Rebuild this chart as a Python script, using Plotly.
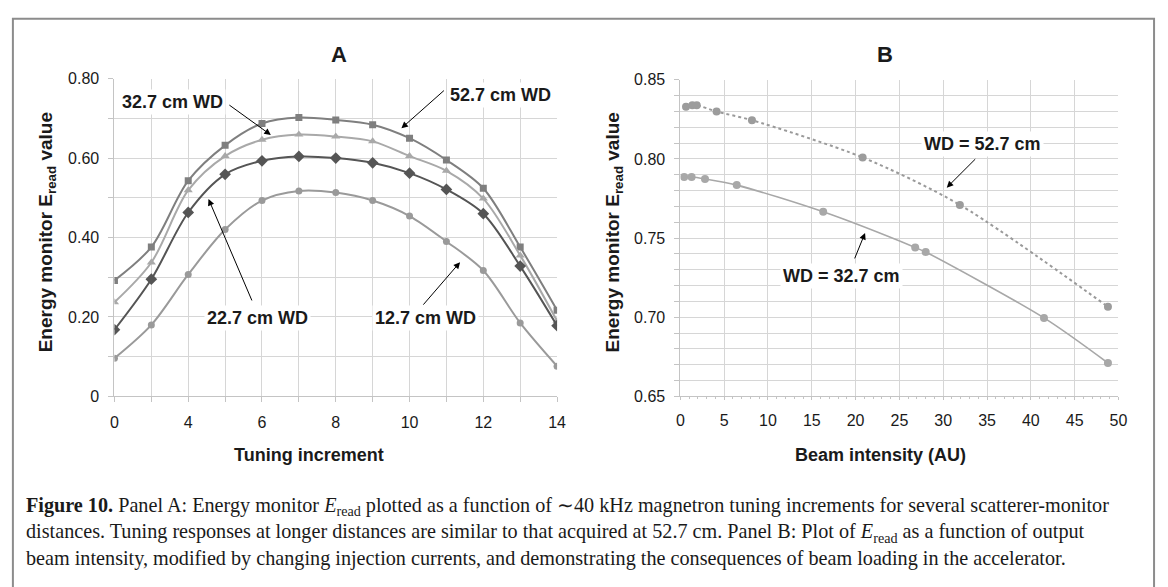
import plotly.graph_objects as go

W, H = 1168, 587

# ---------------- Panel A data ----------------
tuning_categories = ["0", "2", "4", "5", "6", "7", "8", "9", "10", "11", "12", "13", "14"]
wd_52_7 = [0.292, 0.376, 0.543, 0.632, 0.687, 0.702, 0.696, 0.684, 0.650, 0.595, 0.524, 0.376, 0.217]
wd_32_7 = [0.237, 0.337, 0.519, 0.605, 0.646, 0.659, 0.654, 0.642, 0.605, 0.568, 0.498, 0.355, 0.190]
wd_22_7 = [0.168, 0.295, 0.463, 0.559, 0.593, 0.604, 0.600, 0.588, 0.562, 0.521, 0.460, 0.328, 0.178]
wd_12_7 = [0.096, 0.180, 0.307, 0.420, 0.493, 0.517, 0.513, 0.493, 0.454, 0.390, 0.317, 0.185, 0.076]

# ---------------- Panel B data ----------------
beam_52_7 = [0.64, 1.36, 1.87, 4.13, 8.17, 20.8, 31.9, 48.8]
eread_52_7 = [0.833, 0.834, 0.834, 0.830, 0.8245, 0.801, 0.771, 0.7066]
beam_32_7 = [0.43, 1.28, 2.81, 6.43, 16.3, 26.8, 28.0, 41.5, 48.8]
eread_32_7 = [0.7886, 0.7886, 0.7874, 0.7835, 0.7666, 0.7441, 0.7412, 0.6996, 0.6711]

A_yticks = [0, 0.1, 0.2, 0.3, 0.4, 0.5, 0.6, 0.7, 0.8]
A_yticktext = ["0", "", "0.20", "", "0.40", "", "0.60", "", "0.80"]
A_xticktext = ["0", "", "4", "", "6", "", "8", "", "10", "", "12", "", "14"]
B_yticks = [round(0.65 + 0.01 * i, 2) for i in range(21)]
B_yticktext = [f"{v:.2f}" if round(v * 100) % 5 == 0 else "" for v in B_yticks]

FONT = "Arial, 'Liberation Sans', sans-serif"
SERIF = "'Liberation Serif', 'Times New Roman', serif"
GRID = "#d6d6d6"
TXT = "#1a1a1a"

def px_x(p):
    return p / W

def px_y(p):
    return 1 - p / H

fig = go.Figure()

seriesA = [
    ("52.7 cm WD", wd_52_7, "#7f7f7f", "square", 7),
    ("32.7 cm WD", wd_32_7, "#a9a9a9", "triangle-up", 8),
    ("22.7 cm WD", wd_22_7, "#555555", "diamond", 9),
    ("12.7 cm WD", wd_12_7, "#9a9a9a", "circle", 7),
]
for name, ys, col, sym, sz in seriesA:
    fig.add_trace(go.Scatter(
        x=tuning_categories, y=ys, name=name, mode="lines+markers",
        line=dict(color=col, width=2, shape="spline", smoothing=0.9),
        marker=dict(color=col, symbol=sym, size=sz),
        xaxis="x", yaxis="y", showlegend=False))

fig.add_trace(go.Scatter(
    x=beam_52_7, y=eread_52_7, mode="lines+markers", name="WD = 52.7 cm",
    line=dict(color="#9a9a9a", width=2, dash="dot", shape="spline", smoothing=0.8),
    marker=dict(color="#9c9c9c", size=8), xaxis="x2", yaxis="y2", showlegend=False))
fig.add_trace(go.Scatter(
    x=beam_32_7, y=eread_32_7, mode="lines+markers", name="WD = 32.7 cm",
    line=dict(color="#a8a8a8", width=1.6, shape="spline", smoothing=0.8),
    marker=dict(color="#a8a8a8", size=8), xaxis="x2", yaxis="y2", showlegend=False))

axis_common = dict(showgrid=True, gridcolor=GRID, gridwidth=1, zeroline=False,
                   showline=True, linecolor="#c4c4c4", linewidth=1,
                   ticks="outside", tickcolor="#c4c4c4", ticklen=5,
                   tickfont=dict(family=FONT, size=16, color=TXT))

fig.update_layout(
    width=W, height=H, margin=dict(l=0, r=0, t=0, b=0),
    paper_bgcolor="white", plot_bgcolor="white",
    xaxis=dict(axis_common, type="category", categoryorder="array",
               categoryarray=tuning_categories, range=[0, 12],
               tickvals=tuning_categories, ticktext=A_xticktext,
               domain=[px_x(111.7), px_x(559.3)], anchor="y", ticklabelstandoff=6),
    yaxis=dict(axis_common, range=[0, 0.8], tickvals=A_yticks, ticktext=A_yticktext,
               domain=[px_y(400), px_y(72.7)], anchor="x", ticklabelstandoff=6),
    xaxis2=dict(axis_common, range=[0, 50], tick0=0, dtick=5,
                domain=[px_x(684), px_x(1127)], anchor="y2", ticklabelstandoff=6,
                ticklen=3,
                minor=dict(dtick=1, tick0=0, ticks="outside", ticklen=2,
                           tickcolor="#c4c4c4", showgrid=False)),
    yaxis2=dict(axis_common, range=[0.65, 0.85], tickvals=B_yticks, ticktext=B_yticktext,
                domain=[px_y(400), px_y(74)], anchor="x2", ticklabelstandoff=6),
)

def paper_text(text, xp, yp, size, family=FONT, **kw):
    d = dict(text=text, x=px_x(xp), y=px_y(yp), xref="paper", yref="paper",
             xanchor="center", yanchor="middle", showarrow=False,
             font=dict(family=family, size=size, color=TXT))
    d.update(kw)
    return d

ann = []
# titles
ann.append(paper_text("<b>A</b>", 339, 48, 22))
ann.append(paper_text("<b>B</b>", 891, 48, 22))
# axis titles
ann.append(paper_text("<b>Tuning increment</b>", 308, 460, 18))
ann.append(paper_text("<b>Beam intensity (AU)</b>", 886, 460, 18))
for xc in (43.5, 617):
    ann.append(paper_text("<b>Energy monitor E<sub>read</sub> value</b>", xc, 231, 19,
                          textangle=-90))

# panel A labels (text boxes)
labA = [("32.7 cm WD", 1.57, 0.741), ("52.7 cm WD", 10.47, 0.758),
        ("22.7 cm WD", 3.88, 0.198), ("12.7 cm WD", 8.42, 0.198)]
for t, xv, yv in labA:
    ann.append(dict(text=f"<b>{t}</b>", x=xv, y=yv, xref="x", yref="y", showarrow=False,
                    xanchor="center", yanchor="middle", bgcolor="white", borderpad=2,
                    font=dict(family=FONT, size=18, color=TXT)))
arrA = [(4.24, 0.658, -43, -31), (7.78, 0.675, 44, -39),
        (2.55, 0.497, 44, 103), (9.37, 0.338, -38, 44)]
for xv, yv, axp, ayp in arrA:
    ann.append(dict(text="", x=xv, y=yv, xref="x", yref="y", showarrow=True,
                    ax=axp, ay=ayp, arrowhead=2, arrowsize=1.3, arrowwidth=1,
                    arrowcolor="black"))

labB = [("WD = 52.7 cm", 34.43, 0.8095), ("WD = 32.7 cm", 18.42, 0.7261)]
for t, xv, yv in labB:
    ann.append(dict(text=f"<b>{t}</b>", x=xv, y=yv, xref="x2", yref="y2", showarrow=False,
                    xanchor="center", yanchor="middle", bgcolor="white", borderpad=2,
                    font=dict(family=FONT, size=18, color=TXT)))
arrB = [(30.40, 0.7819, 30, -30), (21.08, 0.7533, -11, 27)]
for xv, yv, axp, ayp in arrB:
    ann.append(dict(text="", x=xv, y=yv, xref="x2", yref="y2", showarrow=True,
                    ax=axp, ay=ayp, arrowhead=2, arrowsize=1.3, arrowwidth=1,
                    arrowcolor="black"))

# caption (one multi-line text block)
caption_lines = [
    "<b>Figure 10.</b> Panel A: Energy monitor <i>E</i><sub>read</sub> plotted as a function of ∼40 kHz magnetron tuning increments for several scatterer-monitor",
    "distances. Tuning responses at longer distances are similar to that acquired at 52.7 cm. Panel B: Plot of <i>E</i><sub>read</sub> as a function of output",
    "beam intensity, modified by changing injection currents, and demonstrating the consequences of beam loading in the accelerator.",
]
ann.append(paper_text("<br>".join(caption_lines), 20, 540, 20.2, family=SERIF,
                      xanchor="left", align="left"))

fig.update_layout(annotations=ann)

fig.add_shape(type="rect", xref="paper", yref="paper",
              x0=px_x(9), x1=px_x(1163), y0=-0.05, y1=px_y(11),
              line=dict(color="#8c8c8c", width=2), fillcolor="rgba(0,0,0,0)")

fig.write_html("out.html", config={"displayModeBar": False},
               post_script="document.body.style.margin='0';")
